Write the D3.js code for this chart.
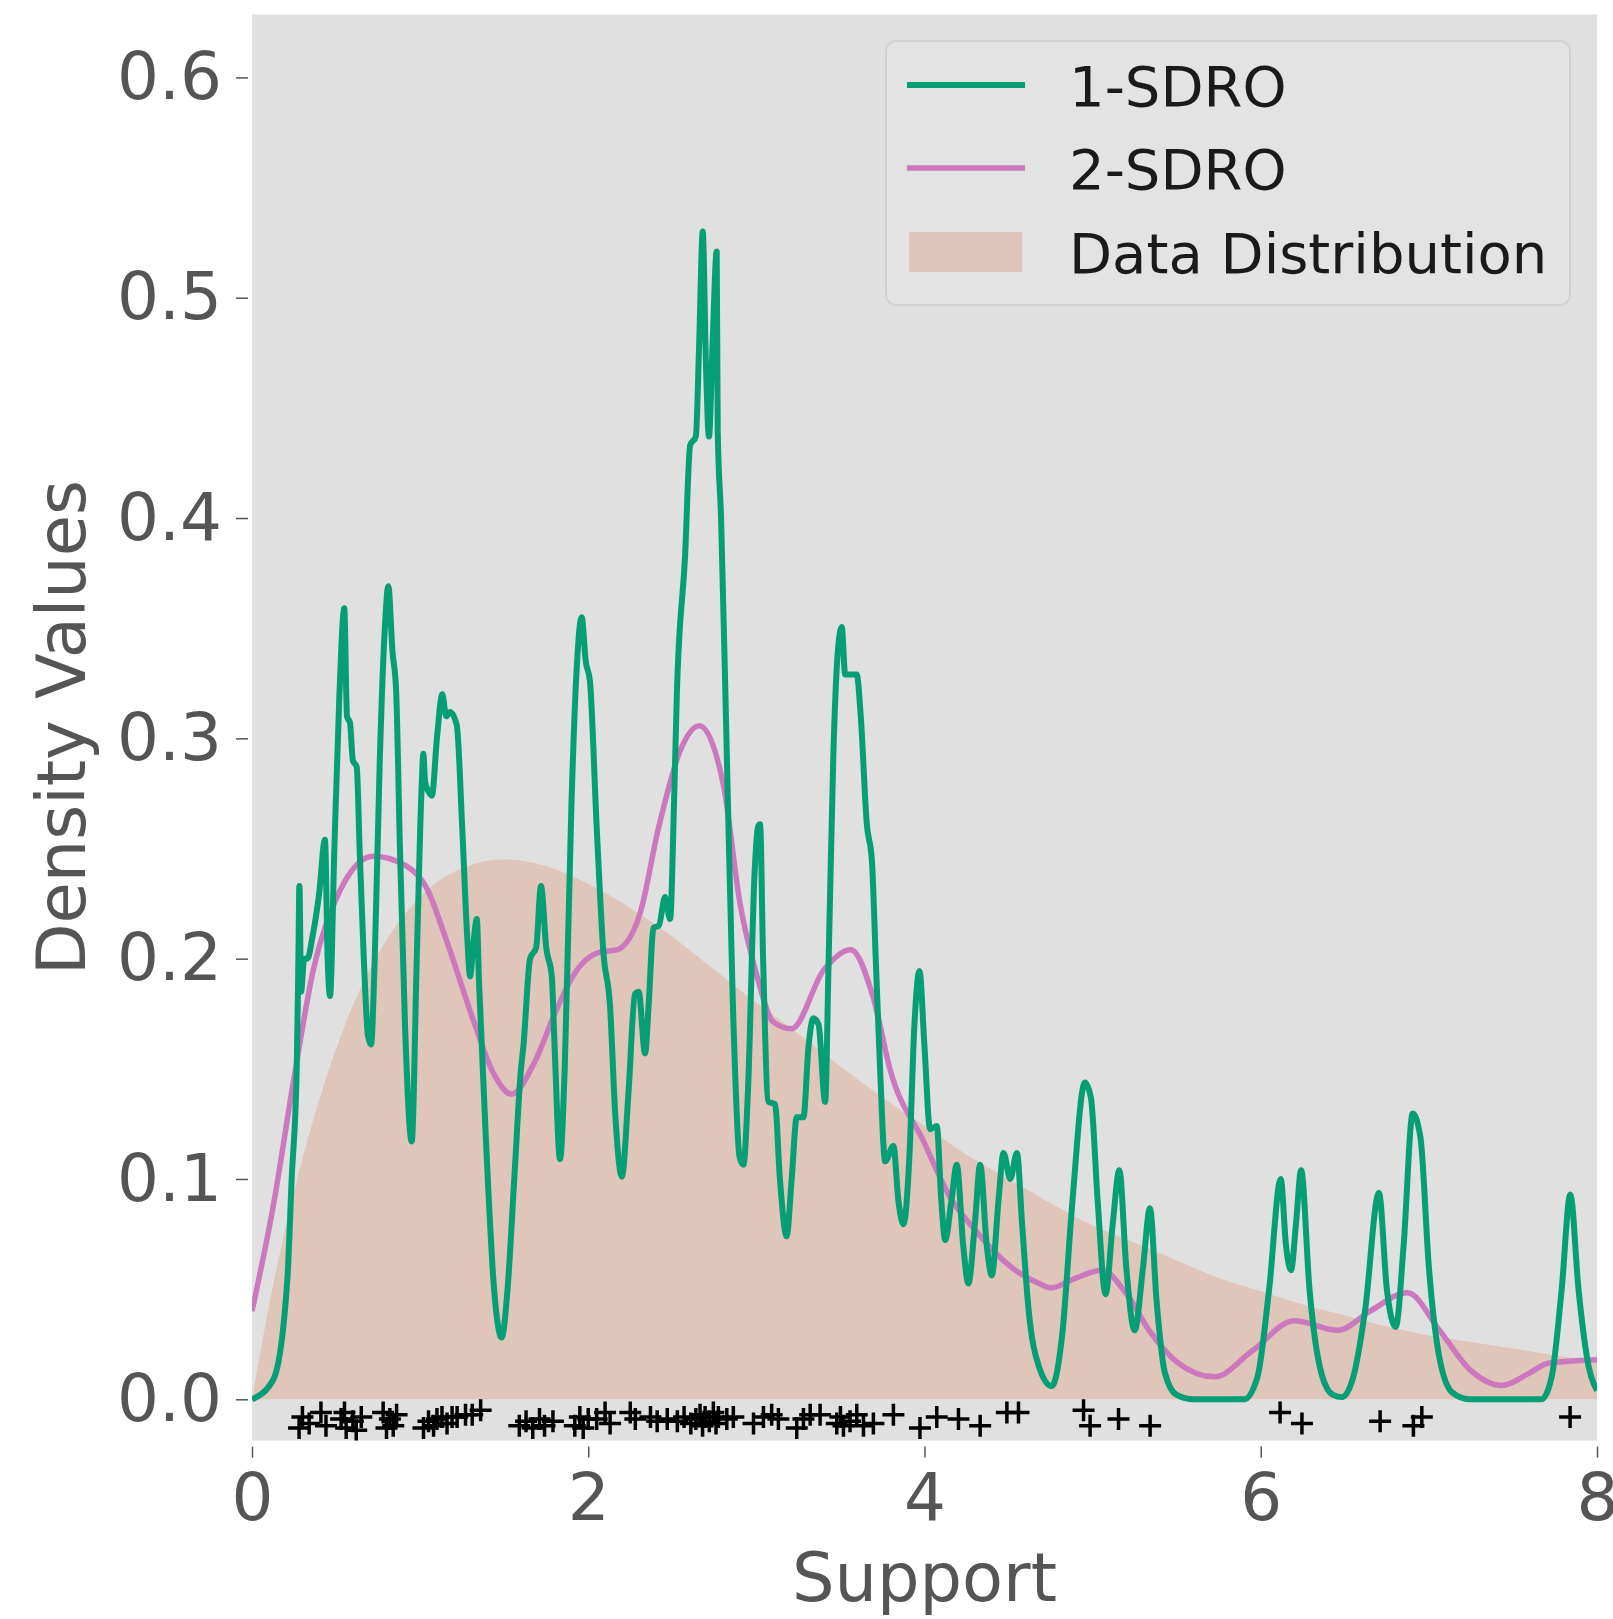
<!DOCTYPE html>
<html>
<head>
<meta charset="utf-8">
<script src="https://cdn.jsdelivr.net/npm/d3@7"></script>
<style>
  html, body { margin: 0; padding: 0; background: #ffffff; }
  svg { display: block; }
</style>
</head>
<body>
<svg id="chart" width="1613" height="1619"></svg>
<script>
// ---------------- DATA ----------------
const xTicks = [0, 2, 4, 6, 8];
const yTicks = [0.0, 0.1, 0.2, 0.3, 0.4, 0.5, 0.6];
const yTickLabels = ["0.0", "0.1", "0.2", "0.3", "0.4", "0.5", "0.6"];
const seriesNames = ["1-SDRO", "2-SDRO", "Data Distribution"];

// Data distribution (filled area)
const distX = [0, 0.1, 0.25, 0.5, 0.75, 1.0, 1.25, 1.5, 1.75, 2.0, 2.25, 2.5, 2.75, 3.0, 3.25, 3.5, 3.75, 4.0, 4.25, 4.5, 4.75, 5.0, 5.25, 5.5, 5.75, 6.0, 6.25, 6.5, 6.75, 7.0, 7.25, 7.5, 7.75, 8.0];
const distY = [0, 0.042, 0.094, 0.159, 0.202, 0.228, 0.241, 0.245, 0.242, 0.234, 0.223, 0.210, 0.195, 0.180, 0.166, 0.151, 0.137, 0.124, 0.111, 0.100, 0.089, 0.079, 0.071, 0.063, 0.055, 0.049, 0.043, 0.038, 0.033, 0.029, 0.026, 0.023, 0.020, 0.017];

// 1-SDRO (green)
const sdro1X = [0, 0.127, 0.21, 0.236, 0.266, 0.276, 0.282, 0.292, 0.31, 0.33, 0.36, 0.40, 0.434, 0.45, 0.464, 0.49, 0.52, 0.549, 0.565, 0.583, 0.60, 0.623, 0.64, 0.665, 0.69, 0.708, 0.73, 0.76, 0.79, 0.811, 0.835, 0.857, 0.88, 0.91, 0.95, 0.98, 1.01, 1.019, 1.03, 1.049, 1.07, 1.10, 1.132, 1.155, 1.178, 1.218, 1.25, 1.28, 1.297, 1.315, 1.337, 1.35, 1.39, 1.44, 1.485, 1.52, 1.56, 1.60, 1.614, 1.654, 1.69, 1.719, 1.75, 1.783, 1.80, 1.832, 1.86, 1.90, 1.93, 1.961, 1.985, 2.01, 2.05, 2.09, 2.13, 2.16, 2.20, 2.24, 2.278, 2.30, 2.338, 2.36, 2.388, 2.42, 2.457, 2.487, 2.51, 2.527, 2.576, 2.606, 2.64, 2.66, 2.681, 2.70, 2.718, 2.74, 2.764, 2.77, 2.79, 2.824, 2.86, 2.90, 2.923, 2.95, 2.99, 3.01, 3.022, 3.04, 3.072, 3.111, 3.14, 3.18, 3.21, 3.24, 3.28, 3.31, 3.339, 3.37, 3.409, 3.43, 3.458, 3.485, 3.508, 3.528, 3.597, 3.62, 3.657, 3.687, 3.71, 3.736, 3.766, 3.815, 3.845, 3.875, 3.91, 3.94, 3.97, 4.0, 4.033, 4.073, 4.10, 4.123, 4.16, 4.192, 4.23, 4.261, 4.30, 4.331, 4.37, 4.40, 4.44, 4.47, 4.51, 4.55, 4.58, 4.62, 4.68, 4.757, 4.82, 4.88, 4.954, 4.99, 5.03, 5.077, 5.12, 5.159, 5.20, 5.25, 5.30, 5.341, 5.38, 5.43, 5.50, 5.60, 5.90, 5.98, 6.05, 6.119, 6.15, 6.18, 6.21, 6.24, 6.29, 6.36, 6.43, 6.483, 6.55, 6.62, 6.703, 6.75, 6.803, 6.85, 6.904, 6.95, 7.00, 7.06, 7.14, 7.24, 7.67, 7.73, 7.79, 7.841, 7.89, 7.95, 8.0];
const sdro1Y = [0, 0.009, 0.054, 0.100, 0.150, 0.200, 0.233, 0.185, 0.200, 0.200, 0.210, 0.230, 0.254, 0.200, 0.183, 0.250, 0.320, 0.359, 0.310, 0.307, 0.290, 0.287, 0.250, 0.200, 0.165, 0.161, 0.200, 0.290, 0.350, 0.369, 0.340, 0.322, 0.250, 0.170, 0.117, 0.200, 0.280, 0.293, 0.280, 0.276, 0.274, 0.300, 0.320, 0.310, 0.312, 0.306, 0.260, 0.210, 0.192, 0.205, 0.218, 0.190, 0.120, 0.050, 0.028, 0.050, 0.100, 0.150, 0.160, 0.200, 0.205, 0.233, 0.205, 0.192, 0.160, 0.109, 0.150, 0.270, 0.330, 0.355, 0.335, 0.326, 0.260, 0.203, 0.178, 0.130, 0.101, 0.140, 0.184, 0.185, 0.157, 0.180, 0.214, 0.215, 0.228, 0.218, 0.270, 0.320, 0.383, 0.433, 0.437, 0.480, 0.530, 0.470, 0.437, 0.480, 0.521, 0.440, 0.400, 0.293, 0.180, 0.110, 0.1065, 0.140, 0.240, 0.260, 0.261, 0.200, 0.135, 0.134, 0.100, 0.074, 0.100, 0.128, 0.128, 0.160, 0.173, 0.170, 0.135, 0.200, 0.293, 0.340, 0.3505, 0.329, 0.329, 0.311, 0.261, 0.2447, 0.200, 0.1495, 0.108, 0.115, 0.090, 0.0794, 0.110, 0.170, 0.1944, 0.160, 0.1226, 0.124, 0.090, 0.0723, 0.090, 0.1065, 0.070, 0.0526, 0.080, 0.1065, 0.070, 0.0562, 0.090, 0.1118, 0.100, 0.1118, 0.080, 0.040, 0.015, 0.006, 0.030, 0.090, 0.1438, 0.1368, 0.090, 0.0477, 0.080, 0.104, 0.060, 0.0313, 0.060, 0.0867, 0.045, 0.012, 0.002, 0, 0, 0.010, 0.050, 0.100, 0.070, 0.0586, 0.080, 0.104, 0.050, 0.012, 0.002, 0.001, 0.010, 0.040, 0.0938, 0.050, 0.0328, 0.070, 0.1297, 0.1188, 0.060, 0.020, 0.003, 0, 0, 0.010, 0.050, 0.093, 0.050, 0.015, 0.004];

// 2-SDRO (pink)
const sdro2X = [0, 0.127, 0.246, 0.365, 0.524, 0.722, 0.92, 1.039, 1.158, 1.317, 1.436, 1.545, 1.674, 1.812, 1.912, 2.07, 2.17, 2.308, 2.417, 2.55, 2.661, 2.804, 2.903, 3.002, 3.10, 3.21, 3.40, 3.561, 3.697, 3.796, 3.994, 4.15, 4.291, 4.49, 4.688, 4.75, 4.90, 5.055, 5.20, 5.336, 5.50, 5.726, 5.95, 6.20, 6.46, 6.65, 6.872, 7.066, 7.25, 7.434, 7.60, 7.71, 8.0];
const sdro2Y = [0.040, 0.088, 0.144, 0.195, 0.231, 0.2465, 0.242, 0.232, 0.208, 0.172, 0.148, 0.1385, 0.152, 0.177, 0.1925, 0.203, 0.204, 0.2205, 0.259, 0.295, 0.3057, 0.2788, 0.2249, 0.1926, 0.1713, 0.1682, 0.1948, 0.2041, 0.1818, 0.1495, 0.1172, 0.092, 0.0777, 0.0616, 0.0523, 0.0506, 0.055, 0.0586, 0.048, 0.0313, 0.017, 0.0102, 0.022, 0.0356, 0.0313, 0.040, 0.0484, 0.031, 0.013, 0.0063, 0.012, 0.0164, 0.018];

// Sample points ("+" markers)
const pointX = [0.28, 0.30, 0.34, 0.41, 0.44, 0.53, 0.55, 0.56, 0.60, 0.62, 0.65, 0.78, 0.80, 0.82, 0.84, 0.86, 1.02, 1.05, 1.08, 1.10, 1.13, 1.16, 1.19, 1.22, 1.27, 1.31, 1.36,
  1.59, 1.63, 1.67, 1.71, 1.74, 1.79, 1.92, 1.95, 1.97, 2.00,
  2.05, 2.10, 2.13, 2.25, 2.28, 2.37, 2.41, 2.47, 2.53, 2.57, 2.61, 2.64, 2.665, 2.68, 2.695, 2.72, 2.744, 2.76, 2.774, 2.824, 2.863, 2.983, 3.042, 3.091, 3.131, 3.24, 3.28, 3.32, 3.379, 3.478, 3.50, 3.518, 3.557, 3.597, 3.637, 3.696, 3.815, 3.973,
  4.073, 4.202, 4.331, 4.49, 4.559, 4.946, 4.985, 5.154, 5.342, 6.115, 6.245, 6.71, 6.908, 6.958, 7.84];
const pointY = [-0.013, -0.008, -0.011, -0.006, -0.012, -0.009, -0.006, -0.013, -0.010, -0.014, -0.008, -0.006, -0.013, -0.009, -0.012, -0.007, -0.013, -0.010, -0.012, -0.009, -0.008, -0.011, -0.008, -0.008, -0.007, -0.007, -0.005,
  -0.012, -0.010, -0.013, -0.009, -0.012, -0.010, -0.012, -0.008, -0.013, -0.009,
  -0.009, -0.006, -0.011, -0.006, -0.009, -0.008, -0.010, -0.009, -0.010, -0.008, -0.011, -0.009, -0.007, -0.012, -0.008, -0.010, -0.006, -0.011, -0.008, -0.009, -0.008, -0.011, -0.008, -0.007, -0.009, -0.013, -0.009, -0.007, -0.007, -0.011, -0.008, -0.012, -0.010, -0.007, -0.012, -0.011, -0.007, -0.013,
  -0.008, -0.009, -0.012, -0.006, -0.006, -0.005, -0.012, -0.009, -0.012, -0.006, -0.011, -0.010, -0.012, -0.008, -0.008];

// ---------------- DRAWING ----------------
const svg = d3.select("#chart");
const plot = { left: 252, right: 1597, top: 14.5, bottom: 1440.6 };

const x = d3.scaleLinear().domain([0, 8]).range([plot.left, plot.right]);
const y = d3.scaleLinear().domain([-0.01875, 0.62855]).range([plot.bottom, plot.top]);

const colGreen = "#069e74";
const colPink = "#cc78bc";
const colFill = "#dfc5ba";
const tickColor = "#555555";
const fontFam = "'DejaVu Sans', sans-serif";

svg.append("rect").attr("x", 0).attr("y", 0).attr("width", 1613).attr("height", 1619).attr("fill", "#ffffff");

svg.append("defs").append("clipPath").attr("id", "clip")
  .append("rect").attr("x", plot.left).attr("y", plot.top)
  .attr("width", plot.right - plot.left).attr("height", plot.bottom - plot.top);

svg.append("rect")
  .attr("x", plot.left).attr("y", plot.top)
  .attr("width", plot.right - plot.left).attr("height", plot.bottom - plot.top)
  .attr("fill", "#e0e0e0");

const g = svg.append("g").attr("clip-path", "url(#clip)");

const distData = distX.map((d, i) => [d, distY[i]]);
g.append("path")
  .datum(distData)
  .attr("fill", colFill)
  .attr("d", d3.area().x(d => x(d[0])).y0(y(0)).y1(d => y(d[1])).curve(d3.curveMonotoneX));

const s1 = sdro1X.map((d, i) => [d, sdro1Y[i]]);
const s2 = sdro2X.map((d, i) => [d, sdro2Y[i]]);
const line = d3.line().x(d => x(d[0])).y(d => y(d[1])).curve(d3.curveMonotoneX);

g.append("path").datum(s2).attr("fill", "none").attr("stroke", colPink)
  .attr("stroke-width", 5.5).attr("stroke-linejoin", "round").attr("d", line);
g.append("path").datum(s1).attr("fill", "none").attr("stroke", colGreen)
  .attr("stroke-width", 6).attr("stroke-linejoin", "round").attr("d", line);

// plus markers
const pts = pointX.map((d, i) => [d, pointY[i]]);
const half = 11;
g.append("g").selectAll("path").data(pts).enter().append("path")
  .attr("d", d => {
    const cx = x(d[0]), cy = y(d[1]);
    return `M${cx - half},${cy}H${cx + half}M${cx},${cy - half}V${cy + half}`;
  })
  .attr("stroke", "#000000").attr("stroke-width", 3.5).attr("fill", "none");

// Axes
const xAxis = svg.append("g").attr("transform", `translate(0,${plot.bottom + 6})`)
  .call(d3.axisBottom(x).tickValues(xTicks).tickFormat(d3.format("d")).tickSize(11).tickPadding(16));
xAxis.select(".domain").remove();
xAxis.selectAll("line").attr("stroke", tickColor).attr("stroke-width", 1.5);
xAxis.selectAll("text").attr("fill", tickColor).attr("font-family", fontFam).attr("font-size", 66);

const yAxis = svg.append("g").attr("transform", `translate(${plot.left - 4},0)`)
  .call(d3.axisLeft(y).tickValues(yTicks).tickFormat((d, i) => yTickLabels[i]).tickSize(12).tickPadding(14));
yAxis.select(".domain").remove();
yAxis.selectAll("line").attr("stroke", tickColor).attr("stroke-width", 1.5);
yAxis.selectAll("text").attr("fill", tickColor).attr("font-family", fontFam).attr("font-size", 66);

svg.append("text").attr("x", (plot.left + plot.right) / 2).attr("y", 1601)
  .attr("text-anchor", "middle").attr("fill", tickColor)
  .attr("font-family", fontFam).attr("font-size", 67).text("Support");

svg.append("text").attr("transform", `translate(85,${(plot.top + plot.bottom) / 2}) rotate(-90)`)
  .attr("text-anchor", "middle").attr("fill", tickColor)
  .attr("font-family", fontFam).attr("font-size", 67).text("Density Values");

// Legend
const leg = svg.append("g");
leg.append("rect").attr("x", 886).attr("y", 41).attr("width", 684).attr("height", 264)
  .attr("rx", 10).attr("fill", "#e3e3e3").attr("stroke", "#d2d2d2").attr("stroke-width", 2);
const rowsY = [85, 168, 252];
leg.append("line").attr("x1", 907).attr("x2", 1025).attr("y1", rowsY[0]).attr("y2", rowsY[0])
  .attr("stroke", colGreen).attr("stroke-width", 6);
leg.append("line").attr("x1", 907).attr("x2", 1025).attr("y1", rowsY[1]).attr("y2", rowsY[1])
  .attr("stroke", colPink).attr("stroke-width", 5.5);
leg.append("rect").attr("x", 909).attr("y", 232).attr("width", 113).attr("height", 40).attr("fill", colFill);
seriesNames.forEach((name, i) => {
  leg.append("text").attr("x", 1069).attr("y", rowsY[i] + 21)
    .attr("fill", "#1a1a1a").attr("font-family", fontFam).attr("font-size", 56).text(name);
});
</script>
</body>
</html>
